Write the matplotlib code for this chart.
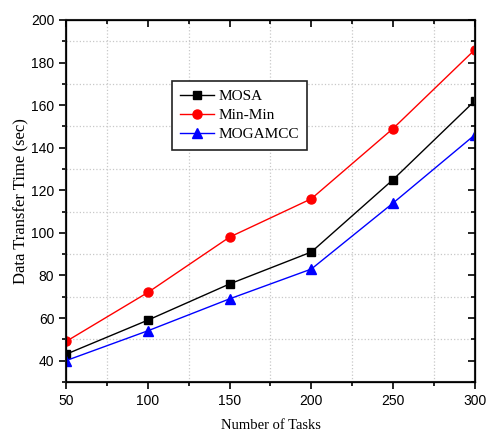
import matplotlib.pyplot as plt
from matplotlib.ticker import MultipleLocator

tasks = [50, 100, 150, 200, 250, 300]
mosa = [43, 59, 76, 91, 125, 162]
minMin = [49, 72, 98, 116, 149, 186]
mogamcc = [40, 54, 69, 83, 114, 146]

serif = ['Liberation Serif', 'DejaVu Serif']
sans = ['Liberation Sans', 'DejaVu Sans']

fig = plt.figure(figsize=(4.86, 4.33), dpi=100)
ax = fig.add_axes([0.136, 0.118, 0.841, 0.836])

ax.plot(tasks, mosa, color='black', marker='s', markersize=5.5, linewidth=1, label='MOSA')
ax.plot(tasks, minMin, color='red', marker='o', markersize=6.5, linewidth=1, label='Min-Min')
ax.plot(tasks, mogamcc, color='blue', marker='^', markersize=6.5, linewidth=1, label='MOGAMCC')

ax.set_xlim(50, 300)
ax.set_ylim(30, 200)
ax.xaxis.set_major_locator(MultipleLocator(50))
ax.xaxis.set_minor_locator(MultipleLocator(25))
ax.yaxis.set_major_locator(MultipleLocator(20))
ax.yaxis.set_minor_locator(MultipleLocator(10))

# grid only on the in-between ticks, like the original
for xv in [75, 125, 175, 225, 275]:
    ax.axvline(xv, color='#c8c8c8', linestyle=':', linewidth=0.9, zorder=0)
for yv in [50, 70, 90, 110, 130, 150, 170, 190]:
    ax.axhline(yv, color='#c8c8c8', linestyle=':', linewidth=0.9, zorder=0)

for s in ax.spines.values():
    s.set_linewidth(1.5)
    s.set_color('#222222')

ax.tick_params(which='major', direction='out', length=5, width=1.2, labelsize=10)
ax.tick_params(which='minor', direction='out', length=3, width=1.2)
for lab in ax.get_xticklabels() + ax.get_yticklabels():
    lab.set_family(sans)

# inward ticks on top and right
ax2 = ax.twinx()
ax2.set_ylim(30, 200)
ax2.yaxis.set_major_locator(MultipleLocator(20))
ax2.yaxis.set_minor_locator(MultipleLocator(10))
ax2.tick_params(which='both', direction='in', labelright=False, width=1.2)
ax2.tick_params(which='major', length=5)
ax2.tick_params(which='minor', length=3)
ax3 = ax.twiny()
ax3.set_xlim(50, 300)
ax3.xaxis.set_major_locator(MultipleLocator(50))
ax3.xaxis.set_minor_locator(MultipleLocator(25))
ax3.tick_params(which='both', direction='in', labeltop=False, width=1.2)
ax3.tick_params(which='major', length=5)
ax3.tick_params(which='minor', length=3)

ax.set_xlabel('Number of Tasks', family=serif, fontsize=10.5, labelpad=8)
ax.set_ylabel('Data Transfer Time (sec)', family=serif, fontsize=12, labelpad=1)

leg = ax.legend(loc='upper left', bbox_to_anchor=(0.259, 0.831), borderaxespad=0,
                prop={'family': serif, 'size': 11}, fancybox=False, edgecolor='#222222',
                framealpha=1, handlelength=2.2, borderpad=0.55, labelspacing=0.35,
                handletextpad=0.3)
leg.get_frame().set_linewidth(1.2)

plt.savefig('out.png', dpi=100)
